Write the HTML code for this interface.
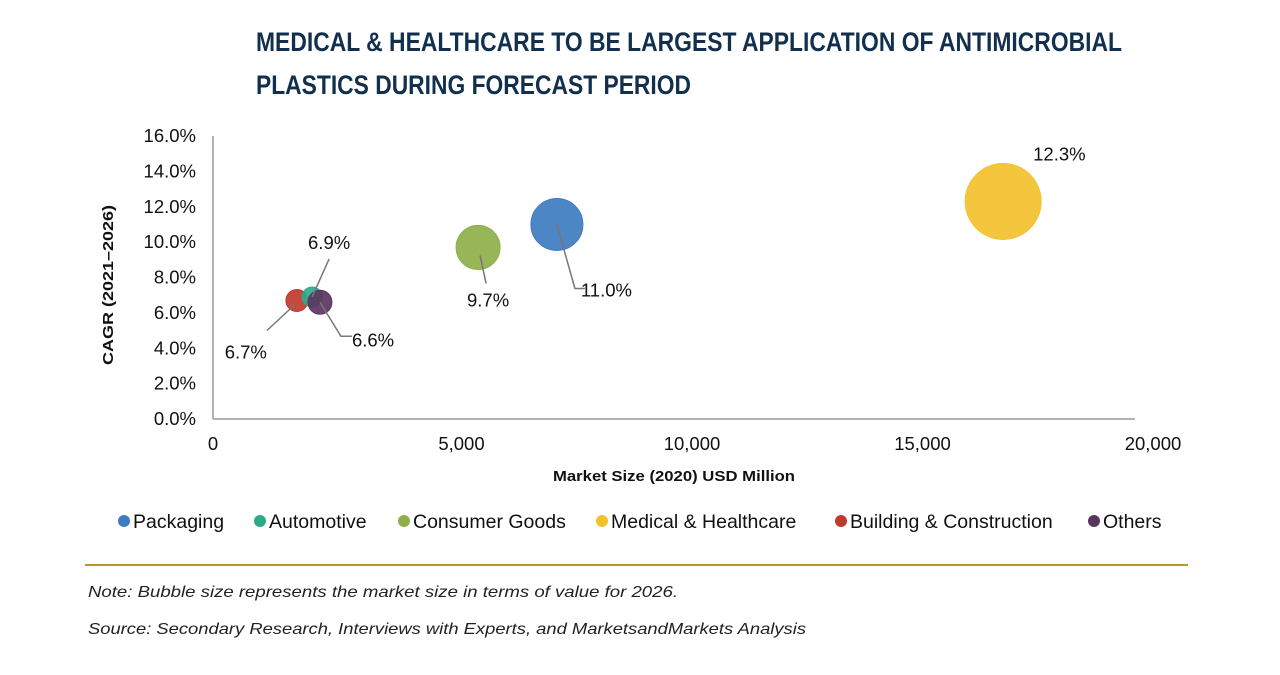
<!DOCTYPE html>
<html><head><meta charset="utf-8"><style>
body{margin:0;background:#fff;}
svg text{font-family:"Liberation Sans",Arial,sans-serif;}
</style></head><body>
<svg width="1280" height="670" viewBox="0 0 1280 670" xmlns="http://www.w3.org/2000/svg">
<g id="title" fill="#12304d" font-weight="bold" font-size="27">
<text x="256" y="51" textLength="866" lengthAdjust="spacingAndGlyphs" style="font-family:'Liberation Sans Narrow','Liberation Sans',sans-serif">MEDICAL &amp; HEALTHCARE TO BE LARGEST APPLICATION OF ANTIMICROBIAL</text>
<text x="256" y="94" textLength="435" lengthAdjust="spacingAndGlyphs" style="font-family:'Liberation Sans Narrow','Liberation Sans',sans-serif">PLASTICS DURING FORECAST PERIOD</text>
</g>
<g id="axes"></g>
<g id="bubbles"></g>
<g id="labels"></g>
<g id="legend"></g>
<line x1="85" y1="565" x2="1188" y2="565" stroke="#b8962e" stroke-width="2"/>
<text x="88" y="597" font-size="16" font-style="italic" fill="#222" textLength="590" lengthAdjust="spacingAndGlyphs">Note: Bubble size represents the market size in terms of value for 2026.</text>
<text x="88" y="634" font-size="16" font-style="italic" fill="#222" textLength="718" lengthAdjust="spacingAndGlyphs">Source: Secondary Research, Interviews with Experts, and MarketsandMarkets Analysis</text>
</svg>
<script>
const categories=["Building & Construction","Automotive","Others","Consumer Goods","Packaging","Medical & Healthcare"];
const marketSize=[1820,2150,2320,5750,7460,17140];
const cagr=[6.7,6.9,6.6,9.7,11.0,12.3];
const size2026=[11,10,12,22,26,38];
const colors=["#c0392b","#2ea98a","#5a3560","#8db04a","#3e7cbf","#f2c12e"];
const xTicks=[0,5000,10000,15000,20000];
const yTicks=[0,2,4,6,8,10,12,14,16];
const legendOrder=["Packaging","Automotive","Consumer Goods","Medical & Healthcare","Building & Construction","Others"];
const NS="http://www.w3.org/2000/svg";
const X0=213,X1=1135,Y0=419,Y1=136;
const xs=v=>X0+(v/20000)*(X1-X0);
const ys=v=>Y0-(v/16)*(Y0-Y1);
function mk(tag,attrs,parent,txt){const e=document.createElementNS(NS,tag);for(const k in attrs)e.setAttribute(k,attrs[k]);if(txt!==undefined)e.textContent=txt;parent.appendChild(e);return e;}
const ax=document.getElementById('axes');
let l=mk('line',{x1:X0,y1:Y1,x2:X0,y2:Y0,stroke:'#999','stroke-width':1.5},ax);


l=mk('line',{x1:X0,y1:Y0,x2:X1,y2:Y0,stroke:'#999','stroke-width':1.5},ax);


yTicks.forEach(t=>{const e=mk('text',{x:196,y:ys(t)+6,'font-size':18.5,'text-anchor':'end',fill:'#111'},ax,t.toFixed(1)+'%');

});
xTicks.forEach(t=>{const e=mk('text',{x:xs(t)+(t?18:0),y:450,'font-size':18.5,'text-anchor':'middle',fill:'#111'},ax,t.toLocaleString('en-US'));

});
let e=mk('text',{x:674,y:481,'font-size':15,'font-weight':'bold','text-anchor':'middle',fill:'#111',textLength:242,lengthAdjust:'spacingAndGlyphs'},ax,'Market Size (2020) USD Million');


e=mk('text',{x:0,y:0,'font-size':15,'font-weight':'bold','text-anchor':'middle',fill:'#111',transform:'translate(113,285) rotate(-90)',textLength:160,lengthAdjust:'spacingAndGlyphs'},ax,'CAGR (2021\u20132026)');


const bg=document.getElementById('bubbles');
[0,1,2,3,4,5].forEach(i=>{const c=mk('circle',{cx:xs(marketSize[i]),cy:ys(cagr[i]),r:size2026[i],fill:colors[i],'fill-opacity':0.92,stroke:colors[i],'stroke-width':1},bg);

});
const lg=document.getElementById('labels');
const lab=[[-30,52,'end',[[-2,4],[-30,30]]],[17,-54,'middle',[[0,0],[17,-38]]],[28,38,'start',[[0,0],[21,34],[32,34]]],[10,53,'middle',[[2,8],[8,36]]],[20,66,'start',[[0,0],[18,64],[28,64]]],[30,-47,'start',[[0,0]]]];
lab.forEach((L,i)=>{const cx=xs(marketSize[i]),cy=ys(cagr[i]);
if(L[3].length>1){const p=mk('polyline',{points:L[3].map(q=>(cx+q[0])+','+(cy+q[1])).join(' '),fill:'none',stroke:'#777','stroke-width':1.5},lg);

}
const t=mk('text',{x:cx+L[0]+(L[2]=='start'&&L[3].length>1?4:0),y:cy+L[1]+6,'font-size':18.5,'text-anchor':L[2],fill:'#111'},lg,cagr[i].toFixed(1)+'%');

});
const leg=document.getElementById('legend');
const lx=[124,260,404,602,841,1094];
legendOrder.forEach((n,k)=>{const i=categories.indexOf(n);
const g=mk('g',{},leg);


mk('circle',{cx:lx[k],cy:521,r:6,fill:colors[i]},g);
mk('text',{x:lx[k]+9,y:528,'font-size':19.5,fill:'#111'},g,n);});
</script>
</body></html>
